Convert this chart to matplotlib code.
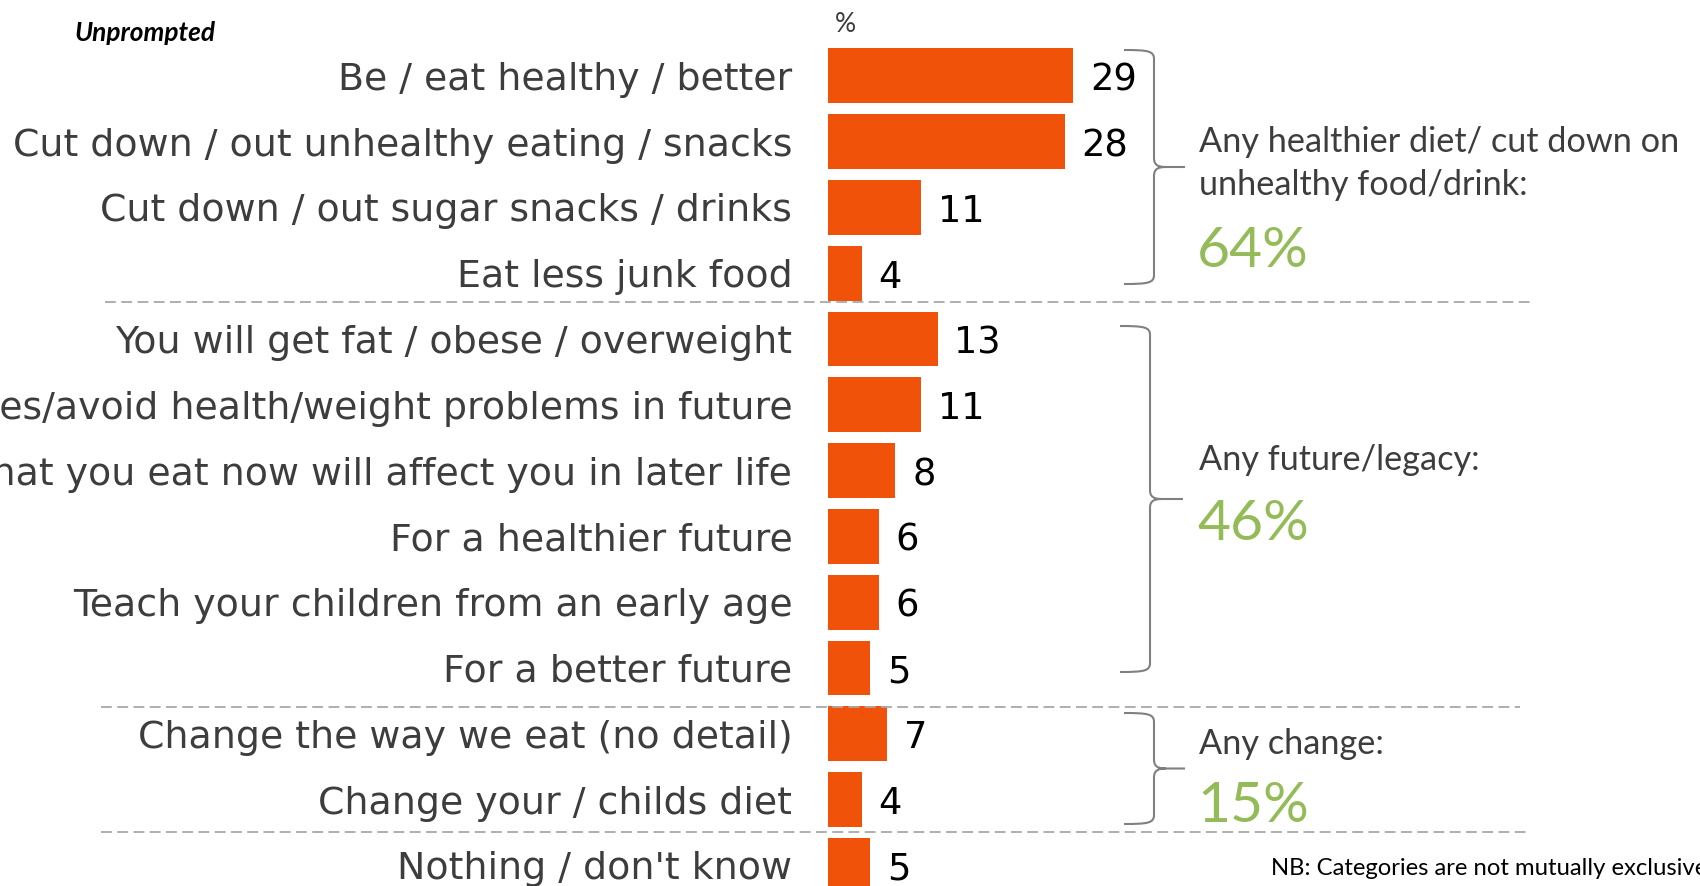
import matplotlib
matplotlib.use("Agg")
import matplotlib.pyplot as plt
from matplotlib.path import Path
from matplotlib.patches import PathPatch

CATEGORIES = [
    "Be / eat healthy / better",
    "Cut down / out unhealthy eating / snacks",
    "Cut down / out sugar snacks / drinks",
    "Eat less junk food",
    "You will get fat / obese / overweight",
    "Prevent diseases/avoid health/weight problems in future",
    "What you eat now will affect you in later life",
    "For a healthier future",
    "Teach your children from an early age",
    "For a better future",
    "Change the way we eat (no detail)",
    "Change your / childs diet",
    "Nothing / don't know",
]
VALUES = [29, 28, 11, 4, 13, 11, 8, 6, 6, 5, 7, 4, 5]

GROUP_LABELS = [
    ["Any healthier diet/ cut down on", "unhealthy food/drink:"],
    ["Any future/legacy:"],
    ["Any change:"],
]
GROUP_TOTALS = [64, 46, 15]

BAR_COLOR = "#F0520A"
LABEL_COLOR = "#3d3d3d"
GREEN = "#93BC58"
BRACE_COLOR = "#808080"
SEP_COLOR = "#a8a8a8"

# canvas geometry in pixels
W, H = 1700, 886
X0, PX_PER_UNIT = 827.7, 8.47
ROW0, ROW_PITCH = 75.8, 65.8

fig = plt.figure(figsize=(W / 100, H / 100), dpi=100)
fig.patch.set_facecolor("white")

ax = fig.add_axes([X0 / W, 0, 1 - X0 / W, 1])
ax.set_xlim(0, (W - X0) / PX_PER_UNIT)
ax.set_ylim((H - ROW0) / ROW_PITCH, -ROW0 / ROW_PITCH)
ax.barh(range(len(VALUES)), VALUES, height=0.835, color=BAR_COLOR, zorder=2)
for i, v in enumerate(VALUES):
    ax.annotate(str(v), (v, i), xytext=(12, 0), textcoords="offset points",
                va="center_baseline", ha="left", fontsize=26.5,
                family="DejaVu Sans", color="black")
ax.set_yticks(range(len(CATEGORIES)), CATEGORIES)
ax.tick_params(axis="y", length=0, pad=25.5, labelsize=27.3, labelcolor=LABEL_COLOR)
ax.set_xticks([])
for s in ax.spines.values():
    s.set_visible(False)
ax.patch.set_alpha(0)

# overlay in canvas pixels for separators, braces and side notes
ov = fig.add_axes([0, 0, 1, 1])
ov.set_xlim(0, W)
ov.set_ylim(H, 0)
ov.axis("off")
ov.patch.set_alpha(0)

for xa, xb, y in [(105, 1532, 302), (101, 1520, 707), (101, 1529, 832)]:
    ov.plot([xa, xb], [y, y], color=SEP_COLOR, lw=1.3, ls=(0, (6, 3)))


def brace(x_left, x_v, x_tip, y_top, y_bot):
    y_mid = (y_top + y_bot) / 2
    r = 9
    verts = [
        (x_left, y_top),
        (x_v - 6, y_top), (x_v, y_top + 1), (x_v, y_top + r),
        (x_v, y_mid - r),
        (x_v, y_mid - 2), (x_v + 4, y_mid), (x_v + 12, y_mid),
        (x_tip, y_mid),
        (x_v + 12, y_mid),
        (x_v + 4, y_mid), (x_v, y_mid + 2), (x_v, y_mid + r),
        (x_v, y_bot - r),
        (x_v, y_bot - 1), (x_v - 6, y_bot), (x_left, y_bot),
    ]
    codes = ([Path.MOVETO] + [Path.CURVE4] * 3 + [Path.LINETO]
             + [Path.CURVE4] * 3 + [Path.LINETO, Path.MOVETO]
             + [Path.CURVE4] * 3 + [Path.LINETO] + [Path.CURVE4] * 3)
    ov.add_patch(PathPatch(Path(verts, codes), fill=False,
                           edgecolor=BRACE_COLOR, lw=1.5))


brace(1124, 1154, 1185, 50, 284)
brace(1120, 1150, 1183, 326, 672)
brace(1124, 1154, 1185, 713, 824)

side_font = "Lato"
label_baselines = [[152, 195], [470], [754]]
total_baselines = [267, 540, 822]
for lines, ys, total, yt in zip(GROUP_LABELS, label_baselines, GROUP_TOTALS, total_baselines):
    for text, y in zip(lines, ys):
        ov.text(1199, y, text, fontsize=24.7, family=side_font, color=LABEL_COLOR,
                va="baseline", ha="left")
    ov.text(1197, yt, f"{total}%", fontsize=41, family=side_font, color=GREEN,
            va="baseline", ha="left")

ov.text(74, 41, "Unprompted", fontsize=18.9, family=side_font, weight="bold",
        style="italic", color="black", va="baseline")
ov.text(835, 32, "%", fontsize=19, family=side_font, color=LABEL_COLOR, va="baseline")
ov.text(1271, 875, "NB: Categories are not mutually exclusive", fontsize=17.2,
        family=side_font, color="black", va="baseline")

fig.savefig("out.png", dpi=100)
